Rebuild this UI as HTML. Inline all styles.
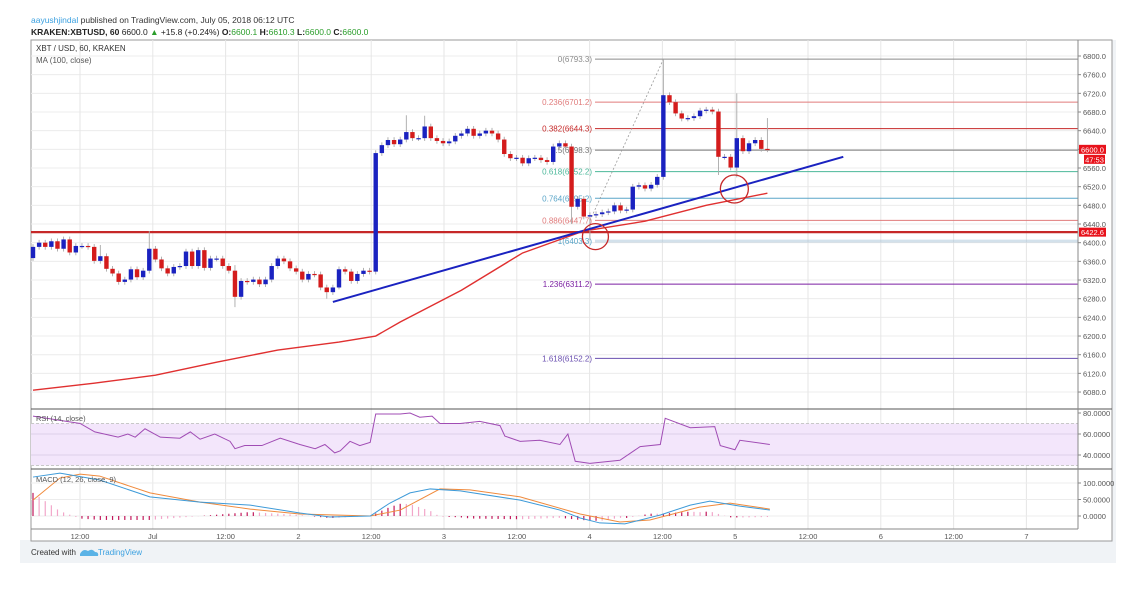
<!DOCTYPE html>
<html><head><meta charset="utf-8"><style>
html,body{margin:0;padding:0;background:#fff;}
body{width:1125px;height:587px;overflow:hidden;position:relative;font-family:"Liberation Sans",sans-serif;}
svg text{font-family:"Liberation Sans",sans-serif;}
</style></head><body>
<svg id="chart" width="1125" height="587" viewBox="0 0 1125 587" xmlns="http://www.w3.org/2000/svg">
<rect x="20" y="540" width="1096" height="23" fill="#f0f3f6"/>
<rect x="1112" y="40" width="4" height="523" fill="#f0f3f6"/>
<rect x="31" y="40" width="1081" height="501" fill="#ffffff" stroke="#9a9a9a" stroke-width="1"/>
<text x="31" y="23" font-size="8.5" fill="#333"><tspan fill="#3aa0e0">aayushjindal</tspan> published on TradingView.com, July 05, 2018 06:12 UTC</text>
<text x="31" y="35" font-size="8.5" fill="#222"><tspan font-weight="bold">KRAKEN:XBTUSD, 60</tspan> 6600.0 <tspan fill="#2a9d2a">▲</tspan> +15.8 (+0.24%) <tspan font-weight="bold">O:</tspan><tspan fill="#2a9d2a">6600.1</tspan> <tspan font-weight="bold">H:</tspan><tspan fill="#2a9d2a">6610.3</tspan> <tspan font-weight="bold">L:</tspan><tspan fill="#2a9d2a">6600.0</tspan> <tspan font-weight="bold">C:</tspan><tspan fill="#2a9d2a">6600.0</tspan></text>
<g id="grid"></g>
<g id="fib"></g>
<g id="main"></g>
<g id="rsi"></g>
<g id="macd"></g>
<g id="axes"></g>
<text x="36" y="51" font-size="8" fill="#333">XBT / USD, 60, KRAKEN</text>
<text x="36" y="63" font-size="8" fill="#555">MA (100, close)</text>
<text x="36" y="421" font-size="7.5" fill="#555">RSI (14, close)</text>
<text x="36" y="482" font-size="7.5" fill="#555">MACD (12, 26, close, 9)</text>
<text x="31" y="555" font-size="8" fill="#333">Created with</text>
<path d="M80 554 q3 -6 8 -3 q4 -3 7 1 q4 0 3 4 l-18 0 z" fill="#5bb3e6"/>
<text x="98" y="555" font-size="8" fill="#3aa0e0">TradingView</text>
</svg>
<script>
const closes=[6391,6400,6391,6403,6387,6407,6379,6393,6393,6391,
6361,6371,6344,6334,6316,6321,6343,6326,6340,6387,
6364,6345,6334,6348,6350,6381,6350,6384,6346,6366,
6366,6350,6340,6284,6318,6316,6321,6311,6321,6350,
6366,6360,6345,6338,6321,6333,6332,6304,6294,6304,
6343,6338,6318,6333,6340,6338,
6592,6609,6620,6611,6621,6637,6624,6624,6649,6624,
6618,6613,6617,6629,6634,6644,6629,6634,6640,6634,
6621,6590,6581,6582,6570,6581,6582,6577,6573,6606,
6613,6606,6477,6494,6456,
6459,6461,6465,6467,6480,6469,6471,6520,6523,6516,
6524,6541,6716,6701,6677,6666,6667,6671,6683,6685,
6681,6584,6584,6561,6624,6596,6613,6620,6601,6600];
const firstOpen=6367;
const wickHighIdx=[33,56,61,64,103,115,120,11,19];
const wickHighVal=[6352,6598,6673,6672,6793,6720,6667,6395,6425];
const wickLowIdx=[33,50,88,91,112,115,48];
const wickLowVal=[6262,6300,6440,6405,6545,6540,6280];
const maIdx=[0,10,20,30,40,50,56,60,70,80,90,100,110,120];
const maVal=[6084,6099,6116,6144,6170,6187,6200,6230,6298,6378,6425,6446,6480,6506];
const rsiIdx=[0,7.7,10.1,13.9,15.5,16.7,18.3,20.8,24,25.7,27.3,29.7,32.2,33,34.6,37.4,40.4,43.6,46.1,47.7,49.3,50.2,51.8,53.4,55.1,56,60,61.6,63.2,65.2,66.5,69.8,73,76.3,77.1,79.6,82.8,86.1,87.4,88.6,91,95.9,99.2,102.5,103.3,107.4,111.4,112.3,114.7,115.5,120.4];
const rsiVal=[77,70,62,57,60,57,65,57,56,62,55,60,53,46,49,49,56,50,46,50,42,44,53,49,52,79,79,80,76,77,70,70,72,68,58,53,54,50,60,34,32,35,48,50,75,66,67,49,45,54,50];
const macdIdx=[0,4.4,10.9,19.1,27.3,35.5,43.6,48.5,55.1,58.3,61.6,64.9,69.8,79.6,86.1,89.4,92.6,96.7,102.5,107.4,110.6,115.5,120.4];
const macdVal=[118,130,109,58,42,33,9,-3,0,39,70,82,76,48,18,-6,-21,-24,3,33,45,30,18];
const sigIdx=[0,4.4,7.7,10.9,19.1,27.3,35.5,43.6,55.1,60,66.5,71.4,79.6,89.4,95.9,100.8,108.9,113.9,120.4];
const sigVal=[48,115,127,121,70,42,21,6,0,18,82,79,58,6,-18,-12,27,39,21];
const priceTicks=[6800,6760,6720,6680,6640,6600,6560,6520,6480,6440,6400,6360,6320,6280,6240,6200,6160,6120,6080];
const timeLabels=["12:00","Jul","12:00","2","12:00","3","12:00","4","12:00","5","12:00","6","12:00","7"];
const fibLevels=["0","0.236","0.382","0.5","0.618","0.764","0.886","1","1.236","1.618"];
const fibPrices=[6793.3,6701.2,6644.3,6598.3,6552.2,6495.2,6447.7,6403.3,6311.2,6152.2];
const fibColors=["#8a8a8a","#e07b7b","#c62828","#777777","#4cb89a","#5aa5c8","#e07b7b","#a9c4d8","#7b1fa2","#6a4fb0"];
const hLinePrice=6422.6;

const NS="http://www.w3.org/2000/svg";
const X0=33,DX=6.12,R=1078;
const xi=i=>X0+i*DX;
const yp=p=>56+(6800-p)*0.4667;
const yr=v=>413+(80-v)*1.05;
const ym=v=>516-v*0.33;
function mk(tag,at,parent){const e=document.createElementNS(NS,tag);for(const k in at)e.setAttribute(k,at[k]);parent.appendChild(e);return e;}
function interp(ix,iv,i){if(i<=ix[0])return iv[0];for(let k=1;k<ix.length;k++){if(i<=ix[k]){const t=(i-ix[k-1])/(ix[k]-ix[k-1]);return iv[k-1]+t*(iv[k]-iv[k-1]);}}return iv[iv.length-1];}
const G=id=>document.getElementById(id);

const grid=G('grid');
priceTicks.forEach(p=>{const l=mk('line',{x1:31,x2:R,y1:yp(p),y2:yp(p),stroke:'#ececec','stroke-width':1},grid);

});
timeLabels.forEach((t,k)=>{const x=80+k*72.8;const l=mk('line',{x1:x,x2:x,y1:40,y2:529,stroke:'#e6e6e6','stroke-width':1},grid);

});

const fib=G('fib');
fibLevels.forEach((lv,k)=>{const y=yp(fibPrices[k]);
const l=mk('line',{x1:595,x2:R,y1:y,y2:y,stroke:fibColors[k],'stroke-width':k==7?3:1,opacity:k==7?0.5:1},fib);


const t=mk('text',{x:592,y:y+3,'font-size':8,fill:fibColors[k]==="#a9c4d8"?"#5aa5c8":fibColors[k],'text-anchor':'end'},fib);
t.textContent=lv+"("+fibPrices[k].toFixed(1)+")";

});

const main=G('main');
let ma=mk('polyline',{points:maIdx.map((i,k)=>xi(i)+','+yp(maVal[k])).join(' '),fill:'none',stroke:'#e03030','stroke-width':1.4},main);


let hl=mk('line',{x1:31,x2:R,y1:yp(hLinePrice),y2:yp(hLinePrice),stroke:'#c62828','stroke-width':2.2},main);


let dl=mk('line',{x1:xi(91),y1:yp(6447),x2:xi(103),y2:yp(6793),stroke:'#999','stroke-width':0.8,'stroke-dasharray':'2,2'},main);


closes.forEach((c,i)=>{
 const o=i===0?firstOpen:closes[i-1];
 let hi=Math.max(o,c)+6,lo=Math.min(o,c)-6;
 const hk=wickHighIdx.indexOf(i);if(hk>=0)hi=wickHighVal[hk];
 const lk=wickLowIdx.indexOf(i);if(lk>=0)lo=wickLowVal[lk];
 const x=xi(i);
 const w=mk('line',{x1:x,x2:x,y1:yp(hi),y2:yp(lo),stroke:'#a8a8a8','stroke-width':0.9},main);
 
 
 const up=c>=o;
 const top=yp(Math.max(o,c)),bot=yp(Math.min(o,c));
 const b=mk('rect',{x:x-2.2,y:top,width:4.4,height:Math.max(1.2,bot-top),fill:up?'#1a22c0':'#d41c1c'},main);
 
 
});
let tl=mk('line',{x1:xi(49),y1:yp(6273),x2:xi(132.4),y2:yp(6584),stroke:'#1a22c0','stroke-width':2},main);


[[91.9,6413,13],[114.6,6515,14]].forEach(a=>{const c=mk('circle',{cx:xi(a[0]),cy:yp(a[1]),r:a[2],fill:'none',stroke:'#c62828','stroke-width':1.3},main);

});

const rsi=G('rsi');
mk('line',{x1:31,x2:1112,y1:409,y2:409,stroke:'#555','stroke-width':1},rsi);
let band=mk('rect',{x:31,y:yr(70),width:R-31,height:yr(30)-yr(70),fill:'#f3e6fb'},rsi);


[70,30].forEach(v=>mk('line',{x1:31,x2:R,y1:yr(v),y2:yr(v),stroke:'#c8c8c8','stroke-dasharray':'3,2'},rsi));
[60,40].forEach(v=>mk('line',{x1:31,x2:R,y1:yr(v),y2:yr(v),stroke:'#ddd0ea'},rsi));
let rl=mk('polyline',{points:rsiIdx.map((i,k)=>xi(i)+','+yr(rsiVal[k])).join(' '),fill:'none',stroke:'#a04cb4','stroke-width':1},rsi);



const macd=G('macd');
mk('line',{x1:31,x2:1112,y1:469,y2:469,stroke:'#555','stroke-width':1},macd);
[100,50,0].forEach(v=>mk('line',{x1:31,x2:R,y1:ym(v),y2:ym(v),stroke:'#ececec'},macd));
let prevH=null;
closes.forEach((_,i)=>{const h=interp(macdIdx,macdVal,i)-interp(sigIdx,sigVal,i);
 const grow=prevH===null||Math.abs(h)>=Math.abs(prevH);prevH=h;
 const b=mk('line',{x1:xi(i),x2:xi(i),y1:ym(0),y2:ym(h),stroke:grow?'#c2185b':'#f2a6c9','stroke-width':1.2},macd);
 
 });
let sl=mk('polyline',{points:sigIdx.map((i,k)=>xi(i)+','+ym(sigVal[k])).join(' '),fill:'none',stroke:'#f08a3c','stroke-width':1},macd);


let ml=mk('polyline',{points:macdIdx.map((i,k)=>xi(i)+','+ym(macdVal[k])).join(' '),fill:'none',stroke:'#3d9ad8','stroke-width':1},macd);



const ax=G('axes');
mk('line',{x1:R,x2:R,y1:40,y2:529,stroke:'#888'},ax);
mk('line',{x1:31,x2:R,y1:529,y2:529,stroke:'#888'},ax);
function tick(y){mk('line',{x1:R,x2:R+3,y1:y,y2:y,stroke:'#888'},ax);}
priceTicks.forEach(p=>{tick(yp(p));const t=mk('text',{x:1083,y:yp(p)+3,'font-size':7.5,fill:'#555'},ax);t.textContent=p.toFixed(1);

});
[80,60,40].forEach(v=>{tick(yr(v));const t=mk('text',{x:1083,y:yr(v)+3,'font-size':7.5,fill:'#555'},ax);t.textContent=v.toFixed(4);

});
[100,50,0].forEach(v=>{tick(ym(v));const t=mk('text',{x:1083,y:ym(v)+3,'font-size':7.5,fill:'#555'},ax);t.textContent=v.toFixed(4);

});
timeLabels.forEach((s,k)=>{const t=mk('text',{x:80+k*72.8,y:539,'font-size':7.5,fill:'#555','text-anchor':'middle'},ax);t.textContent=s;

});
function tag(y,txt,x,w){mk('rect',{x:x,y:y-4.5,width:w,height:9,fill:'#e8121b'},ax);const t=mk('text',{x:x+w/2,y:y+3,'font-size':7.5,fill:'#fff','text-anchor':'middle'},ax);t.textContent=txt;

}
tag(yp(closes[closes.length-1]),closes[closes.length-1].toFixed(1),1079,27);
tag(yp(closes[closes.length-1])+10,"47:53",1084,21);
tag(yp(hLinePrice),hLinePrice.toFixed(1),1079,27);
</script>
</body></html>
